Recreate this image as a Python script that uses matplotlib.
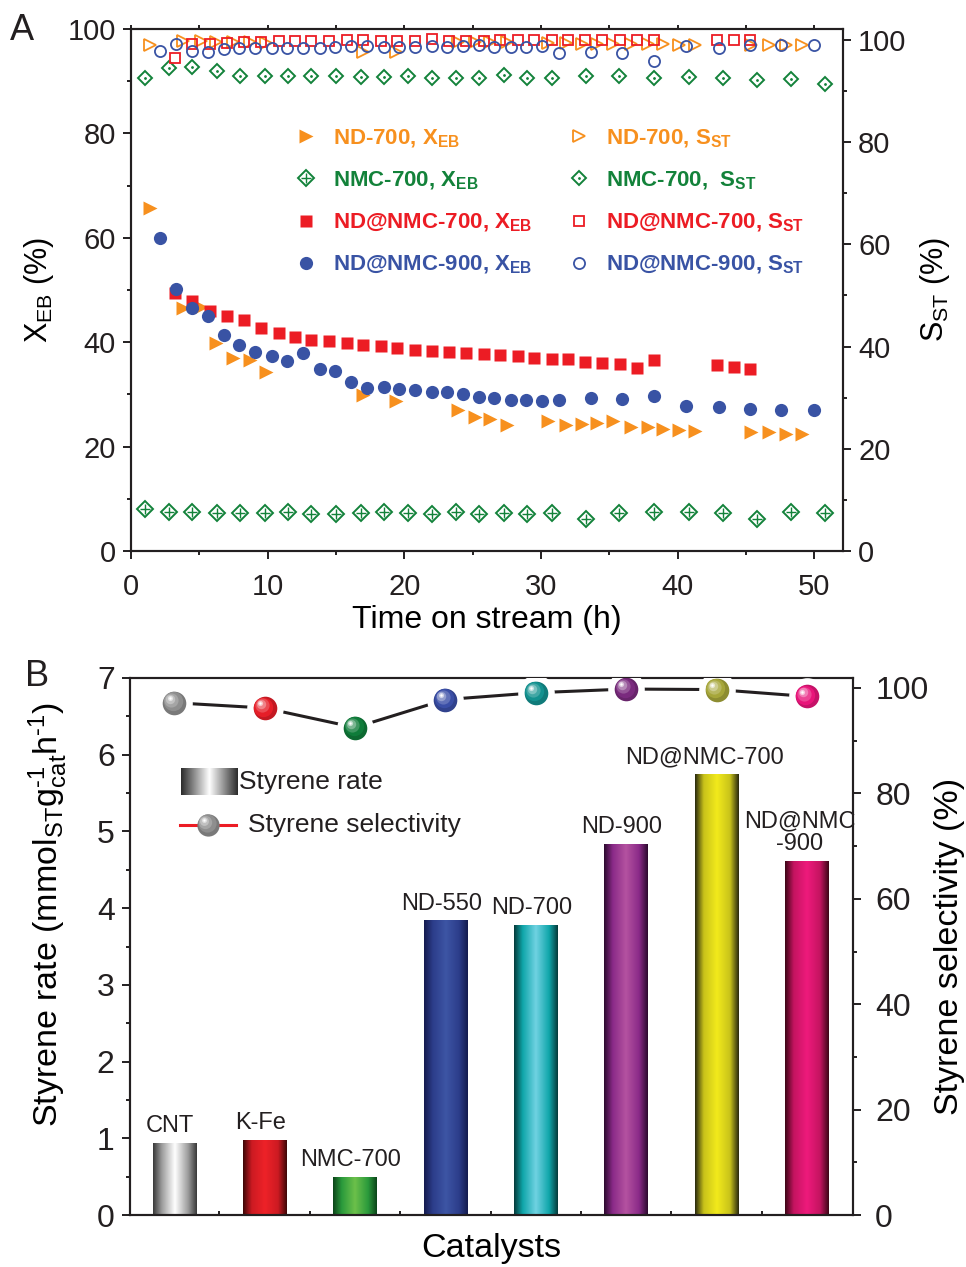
import numpy as np
import matplotlib

matplotlib.use("Agg")
import matplotlib.pyplot as plt
from matplotlib.colors import LinearSegmentedColormap, to_rgb
from matplotlib.lines import Line2D
from matplotlib.transforms import ScaledTranslation

plt.rcParams["font.family"] = ["Liberation Sans", "DejaVu Sans"]
plt.rcParams["mathtext.fontset"] = "custom"
plt.rcParams["mathtext.rm"] = "Liberation Sans"
plt.rcParams["mathtext.it"] = "Liberation Sans:italic"
plt.rcParams["mathtext.bf"] = "Liberation Sans:bold"

# ---------------- panel A data ----------------
t_nd700 = [1.4, 3.8, 5.15, 6.25, 7.5, 8.7, 9.9, 17.0, 19.4, 23.9, 25.2, 26.3, 27.5,
           30.5, 31.8, 33.0, 34.1, 35.3, 36.6, 37.8, 38.9, 40.1, 41.3, 45.4, 46.7, 47.9, 49.1]
x_nd700 = [65.7, 46.6, 46.8, 39.8, 37.0, 36.5, 34.3, 29.9, 28.8, 27.0, 25.6, 25.3, 24.1,
           24.9, 24.1, 24.3, 24.5, 24.9, 23.8, 23.7, 23.3, 23.1, 22.9, 22.8, 22.8, 22.5, 22.5]
s_nd700 = [99.0, 99.8, 99.8, 99.6, 99.5, 99.5, 99.4, 97.6, 97.7, 99.5, 99.5, 99.5, 99.5,
           99.3, 99.3, 99.2, 99.2, 99.2, 99.2, 99.2, 99.2, 98.9, 98.9, 98.9, 98.9, 98.9, 98.9]

t_nmc = [1.0, 2.8, 4.5, 6.3, 8.0, 9.8, 11.5, 13.2, 15.0, 16.8, 18.5, 20.3, 22.0,
         23.8, 25.5, 27.3, 29.0, 30.8, 33.3, 35.7, 38.3, 40.8, 43.3, 45.8, 48.3, 50.8]
x_nmc = [8.1, 7.5, 7.5, 7.3, 7.2, 7.3, 7.5, 7.0, 7.0, 7.2, 7.4, 7.2, 7.0,
         7.4, 7.0, 7.2, 7.0, 7.2, 6.1, 7.2, 7.4, 7.5, 7.2, 6.2, 7.4, 7.2]
s_nmc = [92.6, 94.5, 94.6, 93.9, 93.0, 93.0, 93.0, 93.0, 93.0, 92.7, 92.7, 93.0, 92.6,
         92.6, 92.6, 93.2, 92.6, 92.6, 92.9, 92.9, 92.6, 92.7, 92.6, 92.2, 92.4, 91.4]

t_ndnmc700 = [3.25, 4.5, 5.8, 7.0, 8.3, 9.5, 10.8, 12.0, 13.2, 14.5, 15.8, 17.0, 18.3,
              19.5, 20.8, 22.0, 23.3, 24.5, 25.8, 27.0, 28.3, 29.5, 30.8, 32.0, 33.2,
              34.5, 35.8, 37.0, 38.3, 42.9, 44.1, 45.3]
x_ndnmc700 = [49.4, 47.9, 46.0, 45.0, 44.3, 42.7, 41.7, 41.0, 40.4, 40.3, 39.9, 39.5, 39.3,
              38.9, 38.5, 38.3, 38.2, 38.0, 37.7, 37.5, 37.3, 37.0, 36.8, 36.8, 36.3,
              36.0, 35.9, 35.0, 36.5, 35.7, 35.3, 34.8]
s_ndnmc700 = [96.4, 99.1, 99.2, 99.4, 99.5, 99.5, 99.7, 99.7, 99.7, 99.7, 99.9, 99.9, 99.7,
              99.7, 99.7, 100.2, 99.7, 99.7, 99.7, 99.9, 99.9, 99.9, 99.9, 99.9, 99.9,
              99.9, 99.9, 99.9, 99.9, 100.0, 100.0, 100.0]

t_ndnmc900 = [2.1, 3.3, 4.5, 5.65, 6.8, 7.9, 9.1, 10.3, 11.4, 12.6, 13.8, 14.9, 16.1,
              17.3, 18.5, 19.6, 20.8, 22.0, 23.1, 24.3, 25.5, 26.6, 27.8, 28.9, 30.1,
              31.3, 33.7, 35.9, 38.3, 40.6, 43.0, 45.3, 47.6, 50.0]
x_ndnmc900 = [60.0, 50.2, 46.5, 45.1, 41.3, 39.5, 38.2, 37.4, 36.4, 37.9, 34.8, 34.4, 32.4,
              31.2, 31.5, 31.1, 30.8, 30.5, 30.4, 30.1, 29.6, 29.4, 29.0, 29.0, 28.7,
              29.0, 29.3, 29.2, 29.7, 27.7, 27.6, 27.3, 27.1, 27.0]
s_ndnmc900 = [97.8, 99.1, 97.8, 97.6, 98.1, 98.4, 98.3, 98.4, 98.4, 98.4, 98.4, 98.6, 98.8,
              98.8, 98.6, 98.6, 98.6, 98.8, 98.6, 98.8, 98.9, 98.6, 98.6, 98.6, 98.8,
              97.5, 97.6, 97.5, 95.8, 98.8, 98.4, 98.9, 98.9, 98.9]

# ---------------- panel B data ----------------
catalysts = ["CNT", "K-Fe", "NMC-700", "ND-550", "ND-700", "ND-900", "ND@NMC-700", "ND@NMC\n-900"]
rate = [0.94, 0.98, 0.50, 3.84, 3.78, 4.84, 5.75, 4.62]
selectivity = [97.2, 96.2, 92.5, 97.8, 99.1, 99.8, 99.7, 98.4]

# bar gradient: (edge, mid, centre)
bar_shades = [
    ("#383838", "#9c9c9c", "#ffffff"),
    ("#3c0606", "#cc1a22", "#ee2228"),
    ("#0b4419", "#2a9a3c", "#6cc04a"),
    ("#141b4e", "#2c3d8a", "#3d55a5"),
    ("#053a3a", "#0fa6aa", "#70d2e2"),
    ("#2c0a2e", "#8a2a88", "#b452a0"),
    ("#28280e", "#c8c21a", "#f2ea1c"),
    ("#3c0616", "#c41460", "#ee1a7c"),
]
sphere_colors = ["#8e8e8e", "#e61e28", "#0f7c3a", "#3a4ea6", "#13918f", "#7a2a7e", "#a6a63a", "#e8157a"]

ORANGE = "#f7901e"
GREEN = "#13823a"
RED = "#ec1c24"
BLUE = "#3953a4"
INK = "#231f20"

fig = plt.figure(figsize=(9.66, 12.67), dpi=100)


def style_axis(ax, size):
    for sp in ax.spines.values():
        sp.set_linewidth(1.5)
        sp.set_color(INK)
    ax.tick_params(which="both", width=1.4, color=INK, labelsize=size, labelcolor=INK, pad=5)
    ax.tick_params(which="major", length=6)
    ax.tick_params(which="minor", length=3)


# ================= panel A =================
axA = fig.add_axes([0.1356, 0.5651, 0.737, 0.412])
axA2 = axA.twinx()

h1, = axA.plot(t_nd700, x_nd700, ">", ms=9.5, color=ORANGE, mec="none", ls="none")
axA.plot(t_nmc, x_nmc, "D", ms=8, mfc="white", mec=GREEN, mew=1.4, ls="none")
axA.plot(t_nmc, x_nmc, "+", ms=7, mec=GREEN, mew=1.0, ls="none")
h3, = axA.plot(t_ndnmc700, x_ndnmc700, "s", ms=8.2, color=RED, mec="none", ls="none")
h4, = axA.plot(t_ndnmc900, x_ndnmc900, "o", ms=9.5, color=BLUE, mec="none", ls="none")

axA2.plot(t_nd700, s_nd700, ">", ms=8, mfc="none", mec=ORANGE, mew=1.3, ls="none")
axA2.plot(t_nmc, s_nmc, "D", ms=7.5, mfc="none", mec=GREEN, mew=1.4, ls="none")
axA2.plot(t_nmc, s_nmc, ".", ms=2, color=GREEN, ls="none")
axA2.plot(t_ndnmc700, s_ndnmc700, "s", ms=7.5, mfc="none", mec=RED, mew=1.3, ls="none")
axA2.plot(t_ndnmc900, s_ndnmc900, "o", ms=8, mfc="none", mec=BLUE, mew=1.3, ls="none")

axA.set_xlim(0, 52.1)
axA.set_ylim(0, 100)
axA2.set_ylim(0, 102.1)
axA.set_xticks(np.arange(0, 51, 10))
axA.set_xticks(np.arange(5, 51, 10), minor=True)
axA.set_yticks(np.arange(0, 101, 20))
axA.set_yticks(np.arange(10, 100, 20), minor=True)
axA2.set_yticks(np.arange(0, 101, 20))
axA2.set_yticks(np.arange(10, 100, 20), minor=True)
style_axis(axA, 21)
style_axis(axA2, 21)
axA.tick_params(axis="x", which="both", top=True, labeltop=False, pad=10)
for tk in axA.xaxis.get_major_ticks() + axA.xaxis.get_minor_ticks():
    tk.tick2line.set_markersize(3)
axA.set_xlabel("Time on stream (h)", fontsize=23, labelpad=3)
axA.set_ylabel(r"X$_{\rm EB}$ (%)", fontsize=22, labelpad=8)
axA2.set_ylabel(r"S$_{\rm ST}$ (%)", fontsize=22, labelpad=8)
fig.text(0.01, 0.976, "A", fontsize=26, va="center", color=INK)

g_x = (Line2D([], [], marker="D", ms=8, mfc="white", mec=GREEN, mew=1.4, ls="none"),
       Line2D([], [], marker="+", ms=7, mec=GREEN, mew=1.0, ls="none"))
g_s = (Line2D([], [], marker="D", ms=7.5, mfc="none", mec=GREEN, mew=1.4, ls="none"),
       Line2D([], [], marker=".", ms=2, color=GREEN, ls="none"))
o_s = Line2D([], [], marker=">", ms=8, mfc="none", mec=ORANGE, mew=1.3, ls="none")
r_s = Line2D([], [], marker="s", ms=7.5, mfc="none", mec=RED, mew=1.3, ls="none")
b_s = Line2D([], [], marker="o", ms=8, mfc="none", mec=BLUE, mew=1.3, ls="none")
handles = [h1, g_x, h3, h4, o_s, g_s, r_s, b_s]
labels = [r"ND-700, X$_{\mathbf{EB}}$", r"NMC-700, X$_{\mathbf{EB}}$",
          r"ND@NMC-700, X$_{\mathbf{EB}}$", r"ND@NMC-900, X$_{\mathbf{EB}}$",
          r"ND-700, S$_{\mathbf{ST}}$", r"NMC-700,  S$_{\mathbf{ST}}$",
          r"ND@NMC-700, S$_{\mathbf{ST}}$", r"ND@NMC-900, S$_{\mathbf{ST}}$"]
leg = axA2.legend(handles, labels, ncol=2, loc="upper left", bbox_to_anchor=(0.215, 0.833),
                  frameon=False, numpoints=1, handlelength=1.0, handletextpad=0.7,
                  columnspacing=1.6, labelspacing=0.9, borderpad=0,
                  prop={"size": 16, "weight": "bold"})
for txt, c in zip(leg.get_texts(), [ORANGE, GREEN, RED, BLUE] * 2):
    txt.set_color(c)

# ================= panel B =================
axB = fig.add_axes([0.1346, 0.041, 0.7484, 0.4239])
axB2 = axB.twinx()
xpos = np.arange(1, len(catalysts) + 1)

bars = axB.bar(xpos, rate, width=0.48, color="none", edgecolor="none", zorder=2)
grad = np.linspace(0, 1, 256).reshape(1, -1)
for bar, (edge, mid, light) in zip(bars, bar_shades):
    cmap = LinearSegmentedColormap.from_list(
        "bar", [(0, edge), (0.2, mid), (0.5, light), (0.8, mid), (1, edge)])
    x0 = bar.get_x()
    im = axB.imshow(grad, extent=[x0, x0 + bar.get_width(), 0, bar.get_height()],
                    aspect="auto", cmap=cmap, zorder=2, interpolation="bilinear")
    im.set_clip_path(bar)

for xp, val, name in zip(xpos, rate, catalysts):
    dx = -9 if name == "ND@NMC-700" else (-5 if "\n" in name else -3)
    axB.annotate(name, (xp, val), xytext=(dx, 4), textcoords="offset points",
                 ha="center", va="bottom", fontsize=17, color=INK,
                 multialignment="center", linespacing=1.05)


def lighten(c, f):
    r, g, b = to_rgb(c)
    return (r + (1 - r) * f, g + (1 - g) * f, b + (1 - b) * f)


def darken(c, f):
    r, g, b = to_rgb(c)
    return (r * (1 - f), g * (1 - f), b * (1 - f))


def sphere(ax, x, y, color, size, transform=None, gap=True):
    base = transform if transform is not None else ax.transData
    if gap:
        ax.plot(x, y, "o", ms=size * 1.55, color="white", mec="none", transform=base, zorder=4)
    ax.plot(x, y, "o", ms=size, color=darken(color, 0.15), mec="none", transform=base, zorder=5)
    layers = [(0.82, 0.0, 0.06), (0.6, 0.2, 0.12), (0.4, 0.45, 0.17), (0.22, 0.75, 0.2), (0.1, 1.0, 0.2)]
    for frac, light, off in layers:
        tr = base + ScaledTranslation(-off * size / 72, off * size / 72, fig.dpi_scale_trans)
        ax.plot(x, y, "o", ms=size * frac, color=lighten(color, light), mec="none",
                transform=tr, zorder=5)


axB2.plot(xpos, selectivity, "-", color=INK, lw=2.2, zorder=3)
for xp, sv, c in zip(xpos, selectivity, sphere_colors):
    sphere(axB2, [xp], [sv], c, 17)

axB.set_xlim(0.51, 8.51)
axB.set_ylim(0, 7)
axB2.set_ylim(0, 101.9)
axB.set_xticks(xpos)
axB.set_xticks(xpos[:-1] + 0.5, minor=True)
axB.set_xticklabels([])
axB.set_yticks(np.arange(0, 8, 1))
axB.set_yticks(np.arange(0.5, 7, 1), minor=True)
axB2.set_yticks(np.arange(0, 101, 20))
axB2.set_yticks(np.arange(10, 100, 20), minor=True)
style_axis(axB, 23)
style_axis(axB2, 23)
axB2.tick_params(axis="y", which="both", pad=10)
axB.tick_params(axis="x", which="both", direction="in", length=3)
axB.set_xlabel("Catalysts", fontsize=24.5, labelpad=8)
axB.set_ylabel(r"Styrene rate (mmol$_{\rm ST}$g$_{\rm cat}^{\text{-1}}$h$^{\text{-1}}$)",
               fontsize=24.5)
axB.yaxis.set_label_coords(-0.083, 0.56)
axB2.set_ylabel("Styrene selectivity (%)", fontsize=24.5, labelpad=4)
fig.text(0.026, 0.466, "B", fontsize=26, va="center", color=INK)

# legend for panel B
sw = axB.inset_axes([0.0705, 0.782, 0.078, 0.05])
sw.imshow(grad, aspect="auto", interpolation="bilinear",
          cmap=LinearSegmentedColormap.from_list(
              "leg", [(0, "#2a2a2a"), (0.5, "#ffffff"), (1, "#2a2a2a")]))
sw.axis("off")
axB.text(0.151, 0.807, "Styrene rate", transform=axB.transAxes, fontsize=19,
         va="center", color=INK)
axB.plot([0.069, 0.091], [0.727, 0.727], "-", color=RED, lw=2.2, transform=axB.transAxes)
axB.plot([0.125, 0.147], [0.727, 0.727], "-", color=RED, lw=2.2, transform=axB.transAxes)
sphere(axB, [0.108], [0.727], "#8e8e8e", 16, transform=axB.transAxes, gap=False)
axB.text(0.163, 0.727, "Styrene selectivity", transform=axB.transAxes, fontsize=19,
         va="center", color=INK)

fig.savefig("out.png", dpi=100)
